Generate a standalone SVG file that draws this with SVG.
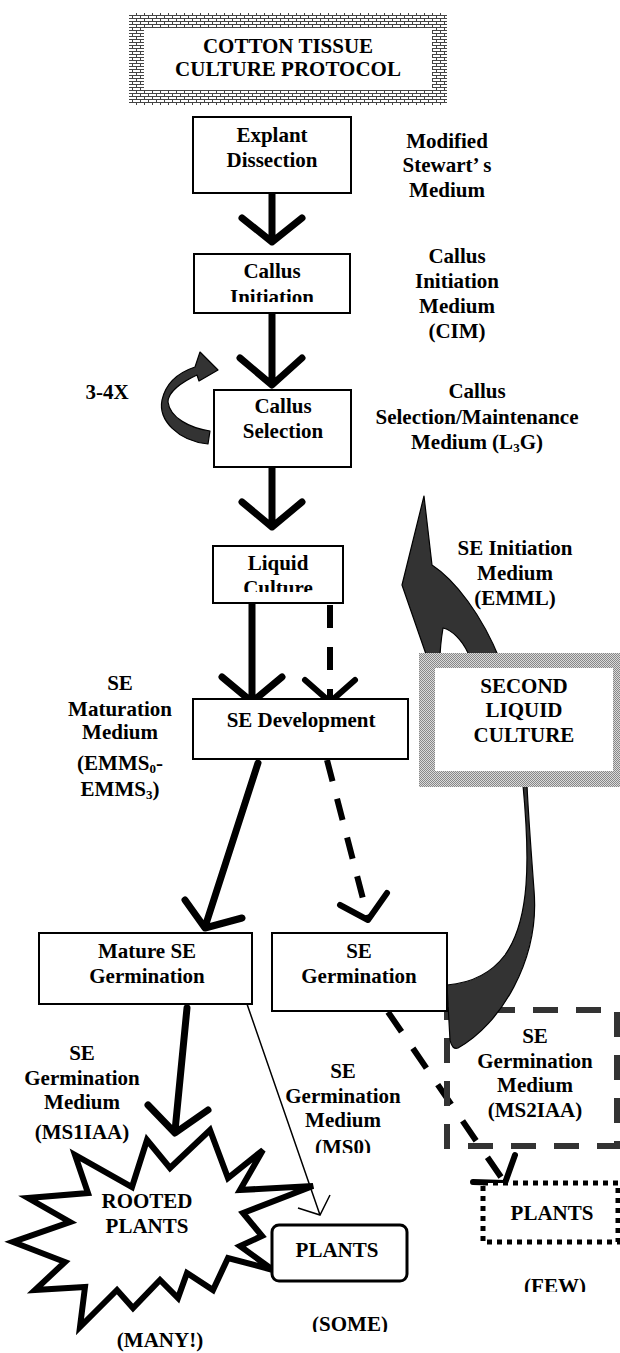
<svg xmlns="http://www.w3.org/2000/svg" width="620" height="1353" viewBox="0 0 620 1353">
<style>
.t{font-family:"Liberation Serif","Times New Roman",serif;font-weight:bold;font-size:21px;text-anchor:middle;fill:#000}
.box{fill:#fff;stroke:#000;stroke-width:2}
.thick{fill:none;stroke:#000;stroke-width:7;stroke-linecap:round;stroke-linejoin:round}
.thin{fill:none;stroke:#000;stroke-width:1.5}
.dk{fill:#333;stroke:#000;stroke-width:1.2;stroke-linejoin:round}
</style>
<defs>
<pattern id="brick" width="8" height="6" patternUnits="userSpaceOnUse">
<rect width="8" height="6" fill="#fff"/>
<path d="M0,0.5H8M0,3.5H8M0.5,0V3.5M4.5,3.5V6" stroke="#444" stroke-width="1"/>
</pattern>
<pattern id="dots" width="2" height="2" patternUnits="userSpaceOnUse">
<rect width="2" height="2" fill="#dadada"/>
<rect width="1" height="1" fill="#888"/>
<rect x="1" y="1" width="1" height="1" fill="#888"/>
</pattern>
<clipPath id="c1"><rect x="195" y="255" width="154" height="47"/></clipPath>
<clipPath id="c2"><rect x="214" y="547" width="128" height="45"/></clipPath>
<clipPath id="c3"><rect x="280" y="1060" width="130" height="93"/></clipPath>
<clipPath id="c4"><rect x="500" y="1260" width="110" height="32"/></clipPath>
<clipPath id="c5"><rect x="290" y="1300" width="120" height="32"/></clipPath>
</defs>

<g id="connectors">
<path class="thick" d="M272,194V240M242,218L272,242L302,218"/>
<path class="thick" d="M272,314V383M240,358L272,385L302,358"/>
<path class="thick" d="M272,468V525M242,502L272,527L302,502"/>
<path class="thick" d="M252,604V700M222,677L252,702L282,677"/>
<path d="M330,605V700" fill="none" stroke="#000" stroke-width="6" stroke-dasharray="23 19"/>
<path d="M305,680L330,702L355,680" fill="none" stroke="#000" stroke-width="6" stroke-linecap="round" stroke-linejoin="round"/>
<path class="thick" d="M258,763L205,927M185,900L205,928L242,918"/>
<path d="M327,760L368,918" fill="none" stroke="#000" stroke-width="6" stroke-dasharray="22 18"/>
<path d="M340,905L368,920L387,893" fill="none" stroke="#000" stroke-width="6" stroke-linecap="round" stroke-linejoin="round"/>
<path class="thick" d="M187,1008L175,1131M148,1105L175,1133L208,1110"/>
<path class="thin" d="M247,1004L320,1215M298,1208L320,1215L330,1195"/>
<path d="M388,1012L503,1180" fill="none" stroke="#000" stroke-width="6" stroke-dasharray="24 20"/>
<path d="M515,1155L505,1183L473,1182" fill="none" stroke="#000" stroke-width="6" stroke-linecap="round" stroke-linejoin="round"/>
<path id="loop" class="dk" d="M208,444C178,441 158,420 162,400C166,382 180,372 195,367L200,352L218,370L199,381L197,375C182,382 168,392 168,402C170,418 190,428 210,431Z"/>
</g>

<g id="title">
<rect x="129" y="13" width="318" height="92" fill="url(#brick)"/>
<rect x="144" y="28" width="288" height="62" fill="#fff"/>
<text class="t" x="288" y="53">COTTON TISSUE</text>
<text class="t" x="288" y="76">CULTURE PROTOCOL</text>
</g>

<g id="explant">
<rect class="box" x="193" y="117" width="158" height="76"/>
<text class="t" x="272" y="142">Explant</text>
<text class="t" x="272" y="167">Dissection</text>
</g>
<g id="label-stewart">
<text class="t" x="447" y="148">Modified</text>
<text class="t" x="447" y="172">Stewart’ s</text>
<text class="t" x="447" y="197">Medium</text>
</g>

<g id="callus-init">
<rect class="box" x="194" y="254" width="156" height="59"/>
<text class="t" x="272" y="278">Callus</text>
<text class="t" x="272" y="304" clip-path="url(#c1)">Initiation</text>
</g>
<g id="label-cim">
<text class="t" x="457" y="263">Callus</text>
<text class="t" x="457" y="288">Initiation</text>
<text class="t" x="457" y="313">Medium</text>
<text class="t" x="457" y="338">(CIM)</text>
</g>

<g id="label-34x"><text class="t" x="107" y="399">3-4X</text></g>

<g id="callus-sel">
<rect class="box" x="214" y="390" width="137" height="77"/>
<text class="t" x="283" y="413">Callus</text>
<text class="t" x="283" y="438">Selection</text>
</g>
<g id="label-l3g">
<text class="t" x="477" y="398">Callus</text>
<text class="t" x="477" y="424">Selection/Maintenance</text>
<text class="t" x="477" y="449">Medium (L<tspan font-size="13" dy="3">3</tspan><tspan dy="-3">G)</tspan></text>
</g>

<g id="liquid">
<rect class="box" x="213" y="546" width="130" height="57"/>
<text class="t" x="278" y="570">Liquid</text>
<text class="t" x="278" y="595" clip-path="url(#c2)">Culture</text>
</g>

<g id="curved-arrow">
<path class="dk" d="M428,660L402,585L424,496L432,565C455,580 482,615 500,660L468,660L468,653C462,640 452,630 443,628C441,640 440,650 440,660Z"/>
</g>

<g id="ms2iaa">
<rect x="447" y="1010" width="170" height="136" fill="none" stroke="#333" stroke-width="6" stroke-dasharray="25 18"/>
<text class="t" x="535" y="1043">SE</text>
<text class="t" x="535" y="1068">Germination</text>
<text class="t" x="535" y="1092">Medium</text>
<text class="t" x="535" y="1117">(MS2IAA)</text>
</g>

<g id="curved-arrow-low">
<path class="dk" d="M523,785C530,860 530,920 505,955C490,975 470,983 447,985L450,1040Q452,1050 458,1048C500,1025 540,960 534,890C531,850 528,810 527,785Z"/>
</g>

<g id="second-liquid">
<rect x="419" y="653" width="201" height="134" fill="url(#dots)"/>
<rect x="435" y="668" width="178" height="103" fill="#fff"/>
<text class="t" x="524" y="693">SECOND</text>
<text class="t" x="524" y="717">LIQUID</text>
<text class="t" x="524" y="742">CULTURE</text>
</g>
<g id="label-emml">
<text class="t" x="515" y="555">SE Initiation</text>
<text class="t" x="515" y="580">Medium</text>
<text class="t" x="515" y="605">(EMML)</text>
</g>

<g id="se-dev">
<rect class="box" x="193" y="699" width="215" height="60"/>
<text class="t" x="301" y="727">SE Development</text>
</g>
<g id="label-emms">
<text class="t" x="120" y="690">SE</text>
<text class="t" x="120" y="716">Maturation</text>
<text class="t" x="120" y="739">Medium</text>
<text class="t" x="120" y="770">(EMMS<tspan font-size="13" dy="3">0</tspan><tspan dy="-3">-</tspan></text>
<text class="t" x="120" y="796">EMMS<tspan font-size="13" dy="3">3</tspan><tspan dy="-3">)</tspan></text>
</g>

<g id="mature-germ">
<rect class="box" x="39" y="933" width="213" height="71"/>
<text class="t" x="147" y="958">Mature SE</text>
<text class="t" x="147" y="983">Germination</text>
</g>
<g id="se-germ">
<rect class="box" x="272" y="933" width="175" height="78"/>
<text class="t" x="359" y="958">SE</text>
<text class="t" x="359" y="983">Germination</text>
</g>

<g id="label-ms1iaa">
<text class="t" x="82" y="1060">SE</text>
<text class="t" x="82" y="1085">Germination</text>
<text class="t" x="82" y="1109">Medium</text>
<text class="t" x="82" y="1139">(MS1IAA)</text>
</g>
<g id="label-ms0" clip-path="url(#c3)">
<text class="t" x="343" y="1078">SE</text>
<text class="t" x="343" y="1103">Germination</text>
<text class="t" x="343" y="1127">Medium</text>
<text class="t" x="343" y="1154">(MS0)</text>
</g>

<g id="rooted">
<path d="M147,1140L170,1168L210,1130L228,1178L263,1150L240,1190L313,1186L243,1213L262,1236L240,1246L273,1270L228,1258L213,1290L187,1273L178,1298L160,1280L133,1308L117,1290L80,1327L85,1287L35,1290L65,1262L13,1242L70,1222L28,1198L88,1193L75,1155L132,1187Z" fill="#fff" stroke="#000" stroke-width="6" stroke-linejoin="miter"/>
<text class="t" x="147" y="1208">ROOTED</text>
<text class="t" x="147" y="1233">PLANTS</text>
<text class="t" x="160" y="1347">(MANY!)</text>
</g>

<g id="plants-some">
<rect x="272" y="1225" width="135" height="56" rx="7" fill="#fff" stroke="#000" stroke-width="3"/>
<text class="t" x="337" y="1257">PLANTS</text>
<text class="t" x="350" y="1331" clip-path="url(#c5)">(SOME)</text>
</g>

<g id="plants-few">
<rect x="483" y="1183" width="135" height="59" fill="#fff" stroke="#000" stroke-width="5" stroke-dasharray="5 5"/>
<text class="t" x="552" y="1220">PLANTS</text>
<text class="t" x="555" y="1293" clip-path="url(#c4)">(FEW)</text>
</g>
</svg>
